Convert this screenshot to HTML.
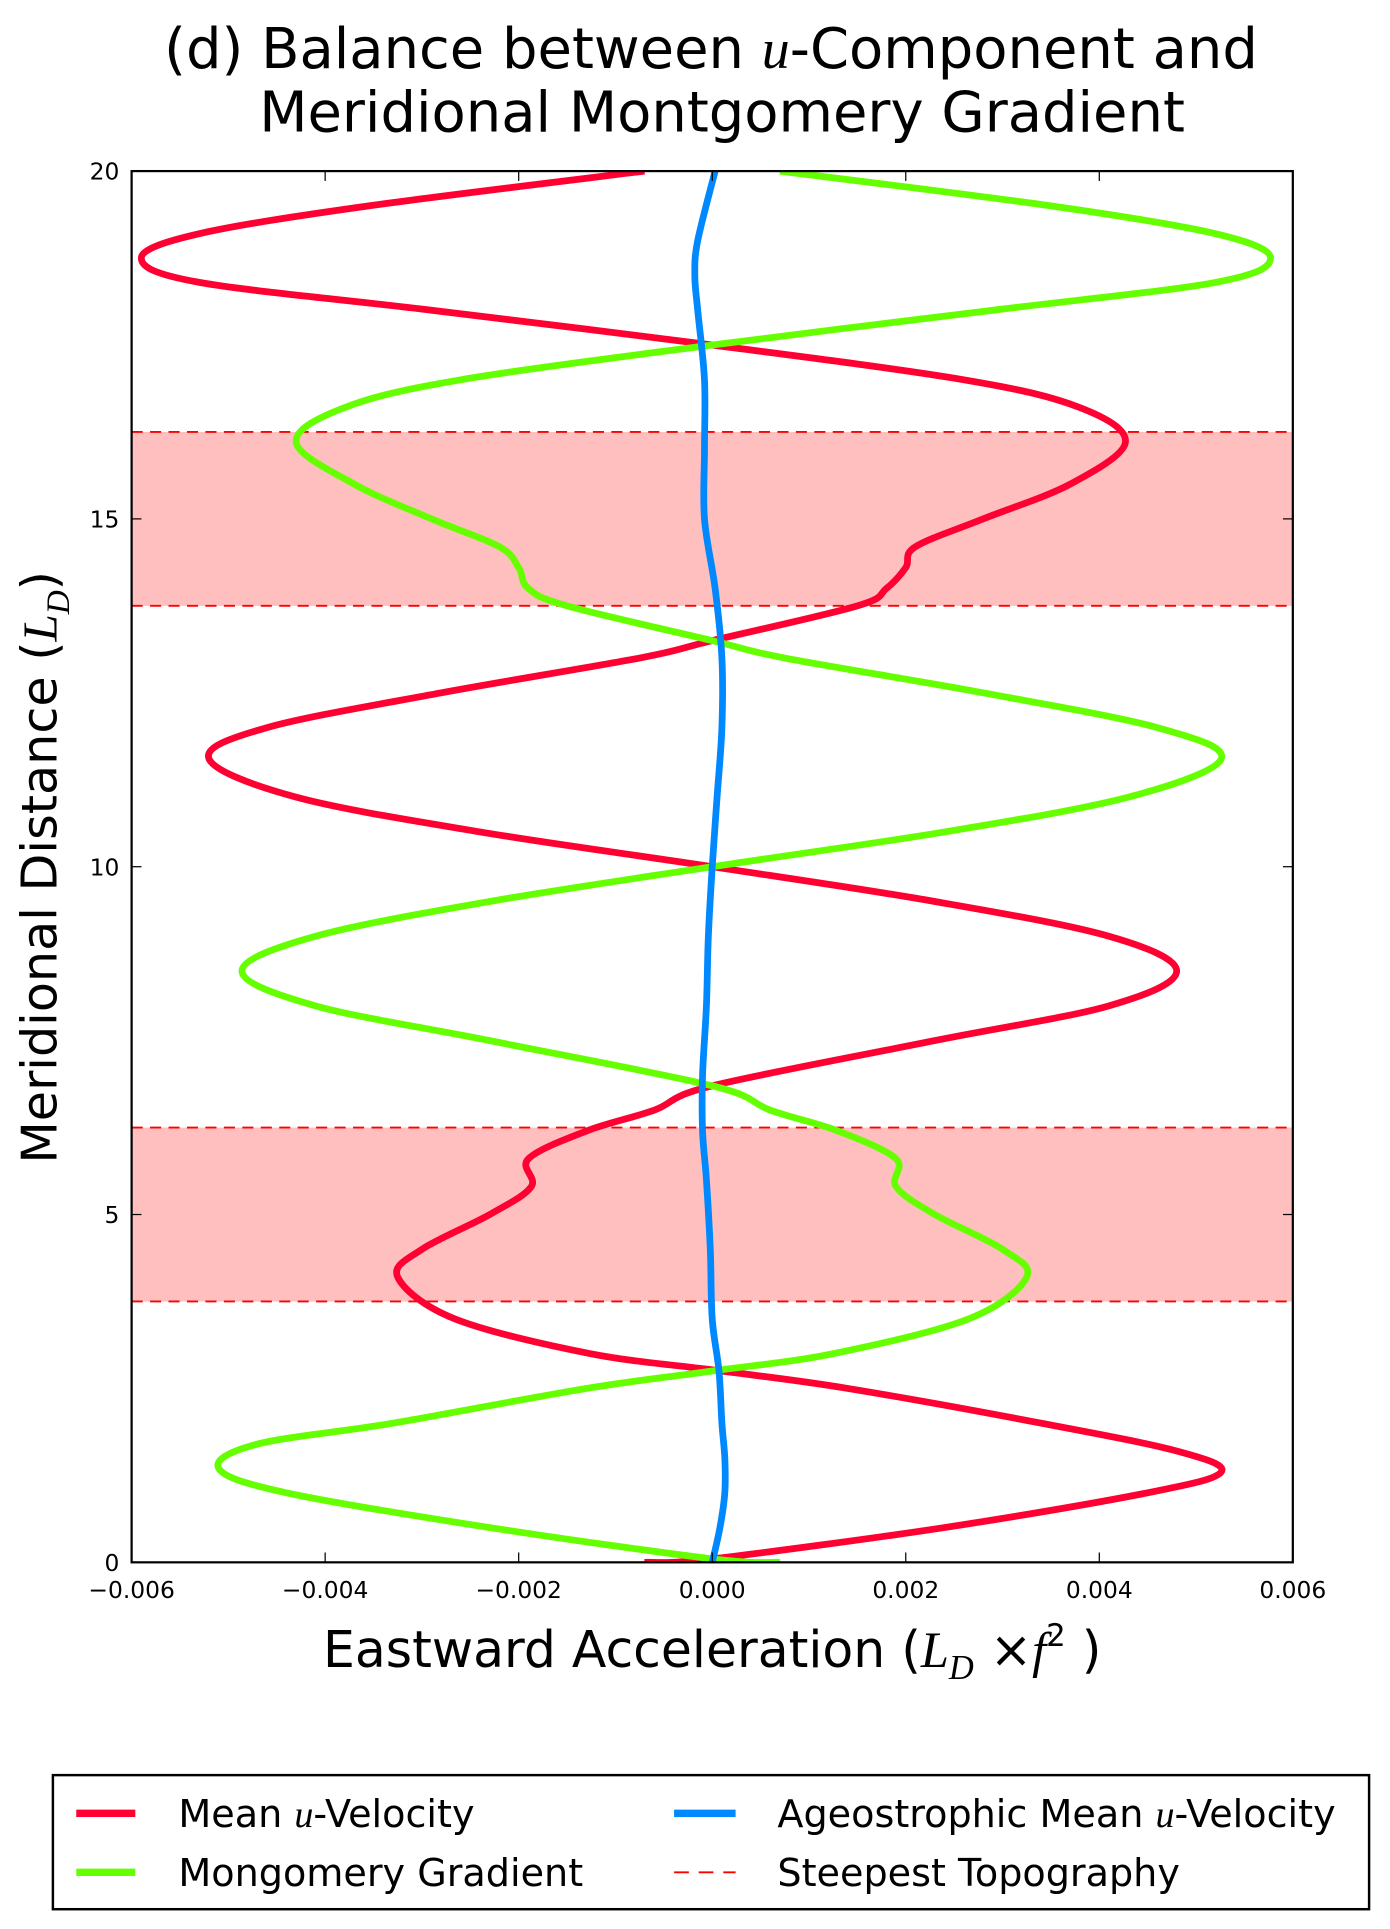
<!DOCTYPE html>
<html><head><meta charset="utf-8"><style>
html,body{margin:0;padding:0;background:#fff;}
svg{display:block;}
text{font-family:"DejaVu Sans","Liberation Sans",sans-serif;fill:#000;}
.m{font-family:"Liberation Serif",serif;font-style:italic;}
</style></head><body>
<svg id="chart" width="1390" height="1929" viewBox="0 0 1130 1568" xmlns="http://www.w3.org/2000/svg">
<text x="578" y="55" font-size="45.5" text-anchor="middle">(d) Balance between <tspan class="m">u</tspan>-Component and</text>
<text x="587" y="107" font-size="45.5" text-anchor="middle">Meridional Montgomery Gradient</text>
<g id="plot"></g>
<text x="579" y="1355" font-size="41" text-anchor="middle">Eastward Acceleration (<tspan class="m">L</tspan><tspan class="m" font-size="28" dy="10">D</tspan><tspan dy="-10"> ×</tspan><tspan class="m">f</tspan><tspan font-size="25" dy="-17">2</tspan><tspan dy="17"> )</tspan></text>
<text transform="translate(46,705) rotate(-90)" font-size="40" text-anchor="middle">Meridional Distance (<tspan class="m">L</tspan><tspan class="m" font-size="27" dy="10">D</tspan><tspan dy="-10">)</tspan></text>
<g>
<rect x="43" y="1443" width="1070" height="109" fill="#fff" stroke="#000" stroke-width="2"/>
<line x1="62" y1="1474" x2="110" y2="1474" stroke="#ff0033" stroke-width="6"/>
<text x="145" y="1485" font-size="31">Mean <tspan class="m">u</tspan>-Velocity</text>
<line x1="62" y1="1522" x2="110" y2="1522" stroke="#66ff00" stroke-width="6"/>
<text x="145" y="1533" font-size="31">Mongomery Gradient</text>
<line x1="548" y1="1474" x2="598" y2="1474" stroke="#0088ff" stroke-width="6"/>
<text x="632" y="1485" font-size="31">Ageostrophic Mean <tspan class="m">u</tspan>-Velocity</text>
<line x1="548" y1="1522" x2="598" y2="1522" stroke="#ff0000" stroke-width="1.5" stroke-dasharray="12,8"/>
<text x="632" y="1533" font-size="31">Steepest Topography</text>
</g>
</svg>
<script>
const xTicks = [-0.006,-0.004,-0.002,0,0.002,0.004,0.006];
const xTickLabels = ["\u22120.006","\u22120.004","\u22120.002","0.000","0.002","0.004","0.006"];
const yTicks = [0,5,10,15,20];
const yTickLabels = ["0","5","10","15","20"];
const bands = [[3.75,6.25],[13.75,16.25]];
const redY = [0,0.05,0.5,1.0,1.3,1.6,2.0,2.5,2.75,3.0,3.5,4.1,4.5,5.0,5.4,5.8,6.2,6.5,6.85,7.5,8.0,8.5,9.0,9.5,10,10.5,11,11.55,12,12.5,13,13.25,13.75,14.0,14.3,14.6,15.0,15.5,16.1,16.6,17,17.5,18,18.4,18.75,19.1,19.5,20];
const redX = [-0.0007,0.0,0.0024,0.0045,0.00526,0.0048,0.0034,0.0014,0.0001,-0.00126,-0.00266,-0.00325,-0.003,-0.0023,-0.00187,-0.0019,-0.0013,-0.0006,0,0.0023,0.0041,0.0048,0.0041,0.0023,0,-0.0024,-0.0043,-0.0052,-0.0046,-0.0028,-0.00075,0,0.0015,0.0018,0.002,0.0021,0.0028,0.0037,0.00427,0.0038,0.0026,0,-0.0029,-0.0053,-0.0059,-0.0053,-0.00355,-0.0007];
const greenY = [0,0.05,0.5,1.0,1.35,1.7,2.0,2.5,2.75,3.0,3.5,4.1,4.5,5.0,5.4,5.8,6.2,6.5,6.85,7.5,8.0,8.5,9.0,9.5,10,10.5,11,11.55,12,12.5,13,13.25,13.75,14.0,14.3,14.6,15.0,15.5,16.1,16.6,17,17.5,18,18.4,18.75,19.1,19.5,20];
const greenX = [0.0007,0.0,-0.0023,-0.0044,-0.0051,-0.0047,-0.0033,-0.0013,0.0,0.00125,0.00265,0.00325,0.003,0.0023,0.0019,0.0019,0.0013,0.0006,0,-0.0023,-0.0041,-0.00486,-0.0041,-0.0023,0,0.0024,0.0043,0.00526,0.0046,0.0028,0.00075,0,-0.0015,-0.0019,-0.002,-0.0022,-0.0029,-0.0037,-0.0043,-0.0038,-0.0026,0,0.0029,0.0052,0.00577,0.0052,0.0035,0.0007];
const blueY = [0,0.5,1.0,1.5,2.0,2.75,3.5,4.5,5.5,6.2,7,8,9,10,11,12,13,14,15,16,17,18,18.5,19,20];
const blueX = [0.0,0.00008,0.00013,0.00013,0.0001,0.00007,0.0,-0.00002,-0.00006,-0.0001,-0.0001,-0.00006,-0.00004,0.0,0.00005,0.0001,0.0001,0.00003,-0.00008,-0.00008,-0.00008,-0.00015,-0.00018,-0.00015,0.00003];

const L=107,R=1051,T=139,B=1270;
const xs=v=>L+(v+0.006)/0.012*(R-L);
const ys=v=>B-v/20*(B-T);
const NS="http://www.w3.org/2000/svg";
const g=document.getElementById('plot');
function mk(tag,attrs){const e=document.createElementNS(NS,tag);for(const k in attrs)e.setAttribute(k,attrs[k]);g.appendChild(e);return e;}
bands.forEach((b,i)=>{
  const r=mk('rect',{x:L,y:ys(b[1]),width:R-L,height:ys(b[0])-ys(b[1]),fill:'#ffbfbf'});
  
  
  b.forEach((v,j)=>{
    const l=mk('line',{x1:L,x2:R,y1:ys(v),y2:ys(v),stroke:'#ff0000','stroke-width':1.5,'stroke-dasharray':'9,6'});
    
    
  });
});
function pathFrom(X,Y){
  const p=X.map((x,i)=>[xs(x),ys(Y[i])]);
  let d='M'+p[0][0]+','+p[0][1];
  for(let i=0;i<p.length-1;i++){
    const p0=p[Math.max(0,i-1)],p1=p[i],p2=p[i+1],p3=p[Math.min(p.length-1,i+2)];
    const c1=[p1[0]+(p2[0]-p0[0])/6,p1[1]+(p2[1]-p0[1])/6];
    const c2=[p2[0]-(p3[0]-p1[0])/6,p2[1]-(p3[1]-p1[1])/6];
    d+=' C'+c1[0]+','+c1[1]+' '+c2[0]+','+c2[1]+' '+p2[0]+','+p2[1];
  }
  return d;
}
const cp=document.createElementNS(NS,'clipPath');cp.setAttribute('id','clip');
const cr=document.createElementNS(NS,'rect');cr.setAttribute('x',L);cr.setAttribute('y',T);cr.setAttribute('width',R-L);cr.setAttribute('height',B-T);cp.appendChild(cr);g.appendChild(cp);
const s1=mk('path',{d:pathFrom(redX,redY),fill:'none',stroke:'#ff0033','stroke-width':5.5,'clip-path':'url(#clip)'});


const s2=mk('path',{d:pathFrom(greenX,greenY),fill:'none',stroke:'#66ff00','stroke-width':5.5,'clip-path':'url(#clip)'});


const s3=mk('path',{d:pathFrom(blueX,blueY),fill:'none',stroke:'#0088ff','stroke-width':5.5,'clip-path':'url(#clip)'});


const fr=mk('rect',{x:L,y:T,width:R-L,height:B-T,fill:'none',stroke:'#000','stroke-width':1.8});


xTicks.forEach((v,i)=>{
  const x=xs(v);
  mk('line',{x1:x,x2:x,y1:B,y2:B-8,stroke:'#000','stroke-width':1});
  mk('line',{x1:x,x2:x,y1:T,y2:T+8,stroke:'#000','stroke-width':1});
  const t=mk('text',{x:x,y:B+29,'font-size':19,'text-anchor':'middle'});t.textContent=xTickLabels[i];
  
  
});
yTicks.forEach((v,i)=>{
  const y=ys(v);
  mk('line',{x1:L,x2:L+8,y1:y,y2:y,stroke:'#000','stroke-width':1});
  mk('line',{x1:R,x2:R-8,y1:y,y2:y,stroke:'#000','stroke-width':1});
  const t=mk('text',{x:L-10,y:y+7,'font-size':19,'text-anchor':'end'});t.textContent=yTickLabels[i];
  
  
});
</script>
</body></html>
